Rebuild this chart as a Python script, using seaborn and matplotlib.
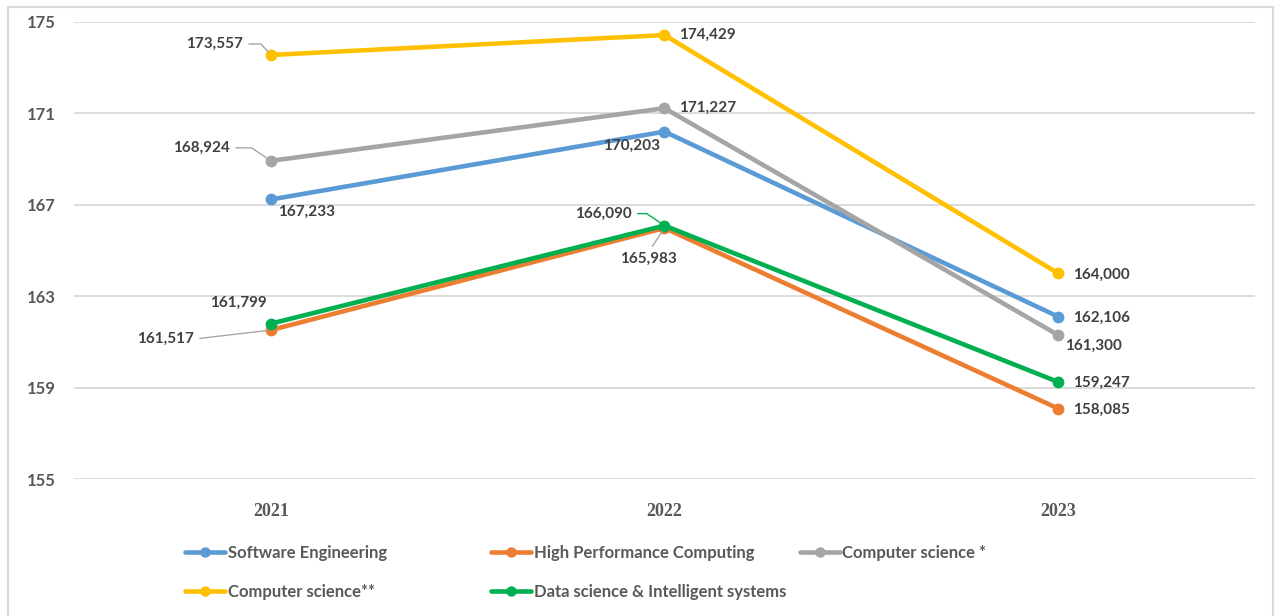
import numpy as np
import pandas as pd
import matplotlib.pyplot as plt
import seaborn as sns
from matplotlib.lines import Line2D
from matplotlib.patches import Rectangle

years = ['2021', '2022', '2023']
programs = ['Software Engineering', 'High Performance Computing', 'Computer science *',
            'Computer science**', 'Data science & Intelligent systems']
software_eng = [167.233, 170.203, 162.106]
high_perf = [161.517, 165.983, 158.085]
comp_sci_1 = [168.924, 171.227, 161.300]
comp_sci_2 = [173.557, 174.429, 164.000]
data_sci = [161.799, 166.090, 159.247]
y_ticks = [155, 159, 163, 167, 171, 175]

colors = ['#5B9BD5', '#ED7D31', '#A5A5A5', '#FFC000', '#00B050']

values = [software_eng, high_perf, comp_sci_1, comp_sci_2, data_sci]
rows = []
for name, vals in zip(programs, values):
    for i, v in enumerate(vals):
        rows.append({'program': name, 'x': i, 'value': v})
df = pd.DataFrame(rows)

sns.set_style('white')
plt.rcParams['font.family'] = ['Lato', 'DejaVu Sans']

W, H = 1277, 616
fig = plt.figure(figsize=(W / 100, H / 100), dpi=100)
ax = fig.add_axes([74 / W, 1 - 479 / H, (1255 - 74) / W, (479 - 22) / H])

sns.lineplot(data=df, x='x', y='value', hue='program', hue_order=programs,
             palette=colors, marker='o', markersize=8.5, markeredgewidth=0,
             linewidth=3.3, legend=False, ax=ax)

ax.set_xlim(-0.5, 2.5)
ax.set_ylim(155, 175)
ax.set_yticks(y_ticks)
ax.set_xticks(range(len(years)))
ax.set_xticklabels(years, family='Liberation Serif', fontweight='bold', fontsize=13, color='#595959')
ax.set_xlabel('')
ax.set_ylabel('')
ax.tick_params(axis='y', length=0, pad=13, labelsize=12, labelcolor='#595959')
ax.tick_params(axis='x', length=0, pad=17)
for lbl in ax.get_yticklabels():
    lbl.set_fontweight('bold')
ax.grid(axis='y', color='#D9D9D9', linewidth=1.3)
ax.set_axisbelow(True)
for s in ax.spines.values():
    s.set_visible(False)

# label placement: (series, year) -> dx, dy (pixels), ha, leader
label_pos = {
    (0, 0): (7, -12, 'left', None), (0, 1): (-4, -14, 'right', None), (0, 2): (15, -1, 'left', None),
    (1, 0): (-77, -9, 'right', ('#A6A6A6', 'arc3')),
    (1, 1): (-16, -31, 'center', ('#A6A6A6', 'arc3')),
    (1, 2): (15, -1, 'left', None),
    (2, 0): (-41, 13, 'right', ('#A6A6A6', 'angle,angleA=0,angleB=-34,rad=0')),
    (2, 1): (15, 0, 'left', None), (2, 2): (7, -11, 'left', None),
    (3, 0): (-28, 11, 'right', ('#A6A6A6', 'angle,angleA=0,angleB=-48,rad=0')),
    (3, 1): (15, 0, 'left', None), (3, 2): (15, -1, 'left', None),
    (4, 0): (-32, 21, 'center', None),
    (4, 1): (-33, 12, 'right', ('#00B050', 'angle,angleA=0,angleB=-34,rad=0')),
    (4, 2): (15, -1, 'left', None),
}
for (si, xi), (dx, dy, ha, leader) in label_pos.items():
    v = values[si][xi]
    txt = f'{v:.3f}'.replace('.', ',')
    kw = {}
    if leader is not None:
        kw['arrowprops'] = dict(arrowstyle='-', color=leader[0], lw=1,
                                connectionstyle=leader[1], shrinkA=2, shrinkB=3,
                                relpos=(1, 0.5) if ha == 'right' else (0.5, 1))
    ax.annotate(txt, xy=(xi, v), xytext=(dx, dy), textcoords='offset pixels',
                ha=ha, va='center', fontsize=11, fontweight='bold', color='#404040',
                zorder=5, **kw)

# legend, Excel-like fixed slots
legend_slots = [(185, 553), (491, 553), (800, 553), (185, 592), (491, 592)]
for name, c, (lx, ly) in zip(programs, colors, legend_slots):
    h = Line2D([0], [0], color=c, lw=3.3, marker='o', markersize=7.5, markeredgewidth=0)
    leg = fig.legend(handles=[h], labels=[name], loc='center left',
                     bbox_to_anchor=(lx / W, 1 - ly / H), frameon=False,
                     borderpad=0, borderaxespad=0, handlelength=2.4,
                     handletextpad=0.15, prop={'size': 12, 'weight': 'bold'})
    for t in leg.get_texts():
        t.set_color('#595959')

fig.patches.append(Rectangle((8 / W, -0.05), (1273 - 8) / W, 1.05 - 7 / H,
                             transform=fig.transFigure, fill=False,
                             edgecolor='#D9D9D9', linewidth=1.5))

plt.savefig('out.png', dpi=100, facecolor='white')
